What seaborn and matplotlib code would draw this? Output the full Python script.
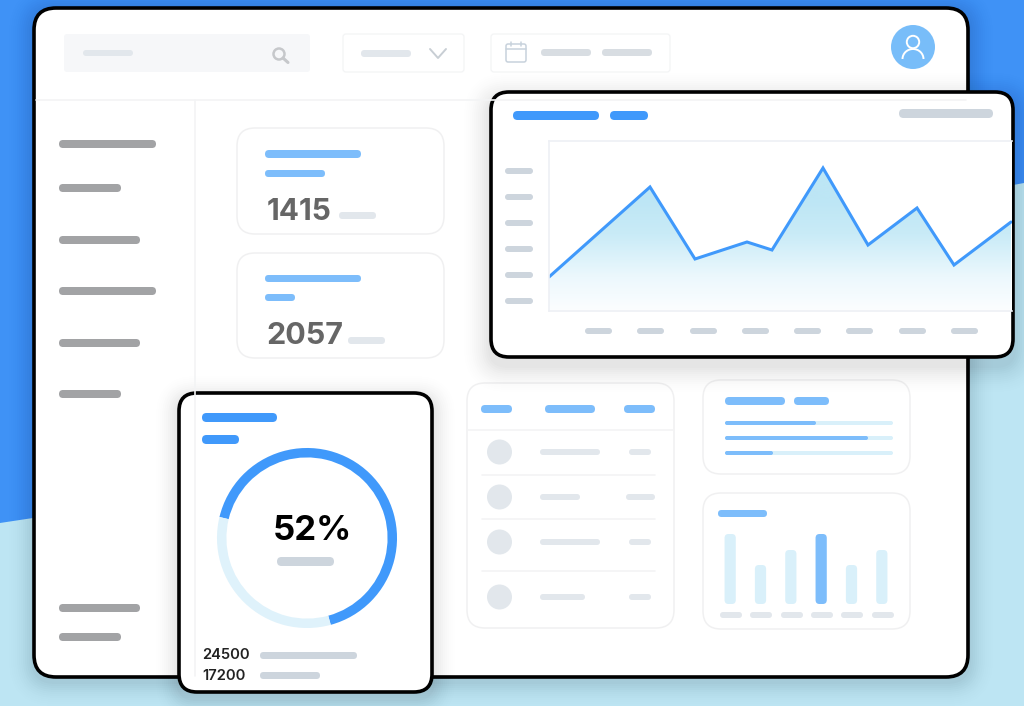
import numpy as np
import pandas as pd
import matplotlib
matplotlib.use("Agg")
import matplotlib.pyplot as plt
from matplotlib.patches import FancyBboxPatch, Circle, Polygon, Arc
from matplotlib.colors import LinearSegmentedColormap
import seaborn as sns

# ---- data ----
area_x = [0, 101, 146, 198, 223, 274, 319, 368, 405, 462]
area_y = [34, 124, 52, 69, 61, 143, 66, 103, 46, 89]
bar_categories = ["A", "B", "C", "D", "E", "F"]
bar_values = [70, 39, 54, 70, 39, 54]
ring_values = [67, 33]
ring_label = "52%"
stat_labels = ["1415", "2057"]
legend_numbers = ["24500", "17200"]
progress_ends = [816, 868, 773]

W, H = 1024, 706
BLUE = "#4099fb"
SOFT = "#7dbdfb"
PALE = "#d9f0fa"
GREY = "#cdd5dd"
LIGHTGREY = "#e2e7ec"
EDGE = "#f0f0f1"

sns.set_theme(style="white")
plt.rcParams["font.family"] = ["Inter", "DejaVu Sans"]

fig = plt.figure(figsize=(W / 100, H / 100), dpi=100)
base = fig.add_axes([0, 0, 1, 1], zorder=0)
base.set_xlim(0, W)
base.set_ylim(H, 0)
base.axis("off")


def px_axes(x0, y0, x1, y1, z=1):
    return fig.add_axes([x0 / W, 1 - y1 / H, (x1 - x0) / W, (y1 - y0) / H], zorder=z)


def rbox(x0, y0, x1, y1, r, fc="white", ec="none", lw=0, alpha=None):
    p = FancyBboxPatch((x0 + r, y0 + r), x1 - x0 - 2 * r, y1 - y0 - 2 * r,
                       boxstyle=f"round,pad={r},rounding_size={r}",
                       fc=fc, ec=ec, lw=lw, alpha=alpha)
    base.add_patch(p)
    return p


def pill(x0, y0, x1, y1, c):
    rbox(x0, y0, x1, y1, (y1 - y0) / 2, fc=c)


def shadow(x0, y0, x1, y1, r, spread=30, dy=6, a=0.011):
    for s in range(spread, 0, -2):
        rbox(x0 - s, y0 - s + dy, x1 + s, y1 + s + dy, r + s, fc="black",
             alpha=a * (1 - s / (spread + 2)))


# ---- background ----
base.add_patch(plt.Rectangle((0, 0), W, H, fc="#3f92f6", ec="none"))
base.add_patch(Polygon([(0, 523), (33, 518), (970, 193), (1024, 183), (1024, 706), (0, 706)],
                       fc="#bde5f3", ec="none"))

# ---- main window ----
shadow(33, 7, 969, 678, 22, spread=26, dy=4, a=0.016)
rbox(34, 8, 968, 677, 22, fc="white", ec="black", lw=2.6)
rbox(64, 34, 310, 72, 3, fc="#f6f7f9")
pill(83, 50, 133, 56, LIGHTGREY)
base.add_patch(Circle((279, 54), 5.5, fc="none", ec="#c6c8cb", lw=1.8))
base.plot([283, 288], [58, 62.5], color="#c6c8cb", lw=2.2, solid_capstyle="round")
rbox(343, 34, 464, 72, 3, fc="white", ec="#f3f4f5", lw=0.9)
pill(361, 50, 411, 57, LIGHTGREY)
base.plot([430, 438, 446], [49, 58, 49], color="#c8ced4", lw=1.4)
rbox(491, 34, 670, 72, 3, fc="white", ec="#f3f4f5", lw=0.9)
rbox(506, 44, 526, 62, 2, fc="white", ec="#c8d2dc", lw=1.1)
base.plot([506, 526], [49, 49], color="#c8d2dc", lw=1.1)
base.plot([511, 511], [42, 46], color="#c8d2dc", lw=1.1)
base.plot([521, 521], [42, 46], color="#c8d2dc", lw=1.1)
pill(541, 49, 591, 56, "#d8dde2")
pill(602, 49, 652, 56, "#d8dde2")
base.add_patch(Circle((913, 47), 22, fc="#78bdf9", ec="none"))
base.add_patch(Circle((913, 42), 6.2, fc="none", ec="white", lw=1.4))
base.add_patch(Arc((913, 59), 21, 20, theta1=180, theta2=360, ec="white", lw=1.4))
base.plot([36, 966], [99.5, 99.5], color="#f3f4f5", lw=1.2)
base.plot([194.5, 194.5], [99.5, 676], color="#f3f4f5", lw=1.2)

side_y = [144, 188, 240, 291, 343, 394, 608, 637]
side_w = [97, 62, 81, 97, 81, 62, 81, 62]
for y, w in zip(side_y, side_w):
    pill(59, y - 4, 59 + w, y + 4, "#a2a3a5")

# ---- stat cards ----
rbox(237, 128, 444, 234, 18, fc="white", ec=EDGE, lw=1.1)
pill(265, 150, 361, 158, SOFT)
pill(265, 170, 325, 177, SOFT)
base.text(267, 220, stat_labels[0], fontsize=21.5, fontweight="bold", color="#666666", va="baseline")
pill(339, 212, 376, 219, LIGHTGREY)
rbox(237, 253, 444, 358, 18, fc="white", ec=EDGE, lw=1.1)
pill(265, 275, 361, 282, SOFT)
pill(265, 294, 295, 301, SOFT)
base.text(266, 344, stat_labels[1], fontsize=22, fontweight="bold", color="#666666", va="baseline")
pill(348, 337, 385, 344, LIGHTGREY)

# ---- table card ----
rbox(467, 383, 674, 628, 18, fc="white", ec=EDGE, lw=1.1)
for a, b in [(481, 512), (545, 595), (624, 655)]:
    pill(a, 405, b, 413, SOFT)
base.plot([468, 673], [430, 430], color="#f3f4f5", lw=1.2)
rows = [(452, 600, 629, 651), (497, 580, 626, 655), (542, 600, 629, 651), (597, 585, 629, 651)]
for y, e, a, b in rows:
    base.add_patch(Circle((499.5, y), 12.5, fc=LIGHTGREY, ec="none"))
    pill(540, y - 3, e, y + 3, LIGHTGREY)
    pill(a, y - 3, b, y + 3, LIGHTGREY)
for y in [474.5, 519, 570.5]:
    base.plot([482, 655], [y, y], color="#f3f4f5", lw=1.2)

# ---- progress card ----
rbox(703, 380, 910, 474, 18, fc="white", ec=EDGE, lw=1.1)
pill(725, 397, 785, 405, SOFT)
pill(794, 397, 829, 405, SOFT)
for y, e in zip([423, 438, 453], progress_ends):
    pill(725, y - 2, 893, y + 2, PALE)
    pill(725, y - 2, e, y + 2, SOFT)

# ---- bar card ----
rbox(703, 493, 910, 629, 18, fc="white", ec=EDGE, lw=1.1)
pill(718, 510, 767, 517, SOFT)
for a in [720, 750, 781, 811, 841, 872]:
    pill(a, 612, a + 22, 618, LIGHTGREY)

# ---- line chart card ----
shadow(490, 91, 1014, 358, 18, spread=30, dy=8, a=0.014)
rbox(491, 92, 1013, 357, 18, fc="white", ec="black", lw=2.6)
pill(513, 111, 599, 120, BLUE)
pill(610, 111, 648, 120, BLUE)
pill(899, 109, 993, 118, GREY)
for y in [171, 197, 223, 249, 275, 301]:
    pill(505, y - 3, 533, y + 3, GREY)
for x in [585, 637, 690, 742, 794, 846, 899, 951]:
    pill(x, 328, x + 27, 334, GREY)

# ---- donut card ----
shadow(178, 392, 433, 693, 18, spread=24, dy=6, a=0.016)
rbox(179, 393, 432, 692, 18, fc="white", ec="black", lw=2.6)
pill(202, 413, 277, 422, BLUE)
pill(202, 435, 239, 444, BLUE)
base.text(312, 531, ring_label, fontsize=25, fontweight="bold", color="black",
          ha="center", va="center")
pill(277, 557, 334, 566, GREY)
base.text(202, 655, legend_numbers[0], fontsize=10.6, fontweight="semibold", color="#222222", va="center")
base.text(202, 676, legend_numbers[1], fontsize=10.6, fontweight="semibold", color="#222222", va="center")
pill(260, 652, 357, 659, GREY)
pill(260, 672, 320, 679, GREY)

# ---- area chart ----
ax = px_axes(549, 141, 1012, 311)
df = pd.DataFrame({"x": area_x, "y": area_y})
fill = ax.fill_between(df["x"], df["y"], 0, color="none")
cmap = LinearSegmentedColormap.from_list(
    "g", [(0, "#fcfeff"), (0.2, "#ecf8fd"), (0.45, "#c9ebf7"), (0.65, "#bde6f5"), (1, "#bde6f5")])
grad = np.linspace(1, 0, 256).reshape(-1, 1)
im = ax.imshow(grad, extent=[0, 463, 0, 170], cmap=cmap, aspect="auto", zorder=1)
im.set_clip_path(fill.get_paths()[0], ax.transData)
sns.lineplot(data=df, x="x", y="y", color=BLUE, lw=2.2, ax=ax, zorder=2)
ax.set_xlim(0, 463)
ax.set_ylim(0, 170)
ax.set(xlabel="", ylabel="", xticks=[], yticks=[])
ax.grid(False)
for name, s in ax.spines.items():
    s.set_color("#eef0f5")
    s.set_linewidth(1.2)
ax.spines["right"].set_visible(False)
for line in ax.get_lines():
    line.set_solid_joinstyle("miter")

# ---- bar chart ----
bx = px_axes(715, 534, 897, 604)
bars = pd.DataFrame({"c": bar_categories, "v": bar_values})
sns.barplot(data=bars, x="c", y="v", hue="c", legend=False, width=0.37, ax=bx,
            palette=[PALE, PALE, PALE, SOFT, PALE, PALE], saturation=1)
bx.set_xlim(-0.5, 5.5)
bx.set_ylim(0, 70)
bx.axis("off")
for p in list(bx.patches):
    x, y, w, h = p.get_x(), p.get_y(), p.get_width(), p.get_height()
    rx = 0.13
    ry = 4
    bx.add_patch(FancyBboxPatch((x + rx, y + ry), w - 2 * rx, h - 2 * ry,
                                boxstyle=f"round,pad={rx},rounding_size={rx}",
                                mutation_aspect=ry / rx, fc=p.get_facecolor(), ec="none"))
    p.set_visible(False)

# ---- donut ----
dx = px_axes(215, 446, 399, 630)
dx.pie(ring_values, colors=[BLUE, "#dff2fb"], startangle=166.5, counterclock=False,
       radius=1, wedgeprops=dict(width=0.105, linewidth=0))
dx.set_xlim(-1.022, 1.022)
dx.set_ylim(-1.022, 1.022)

fig.savefig("out.png", dpi=100)
